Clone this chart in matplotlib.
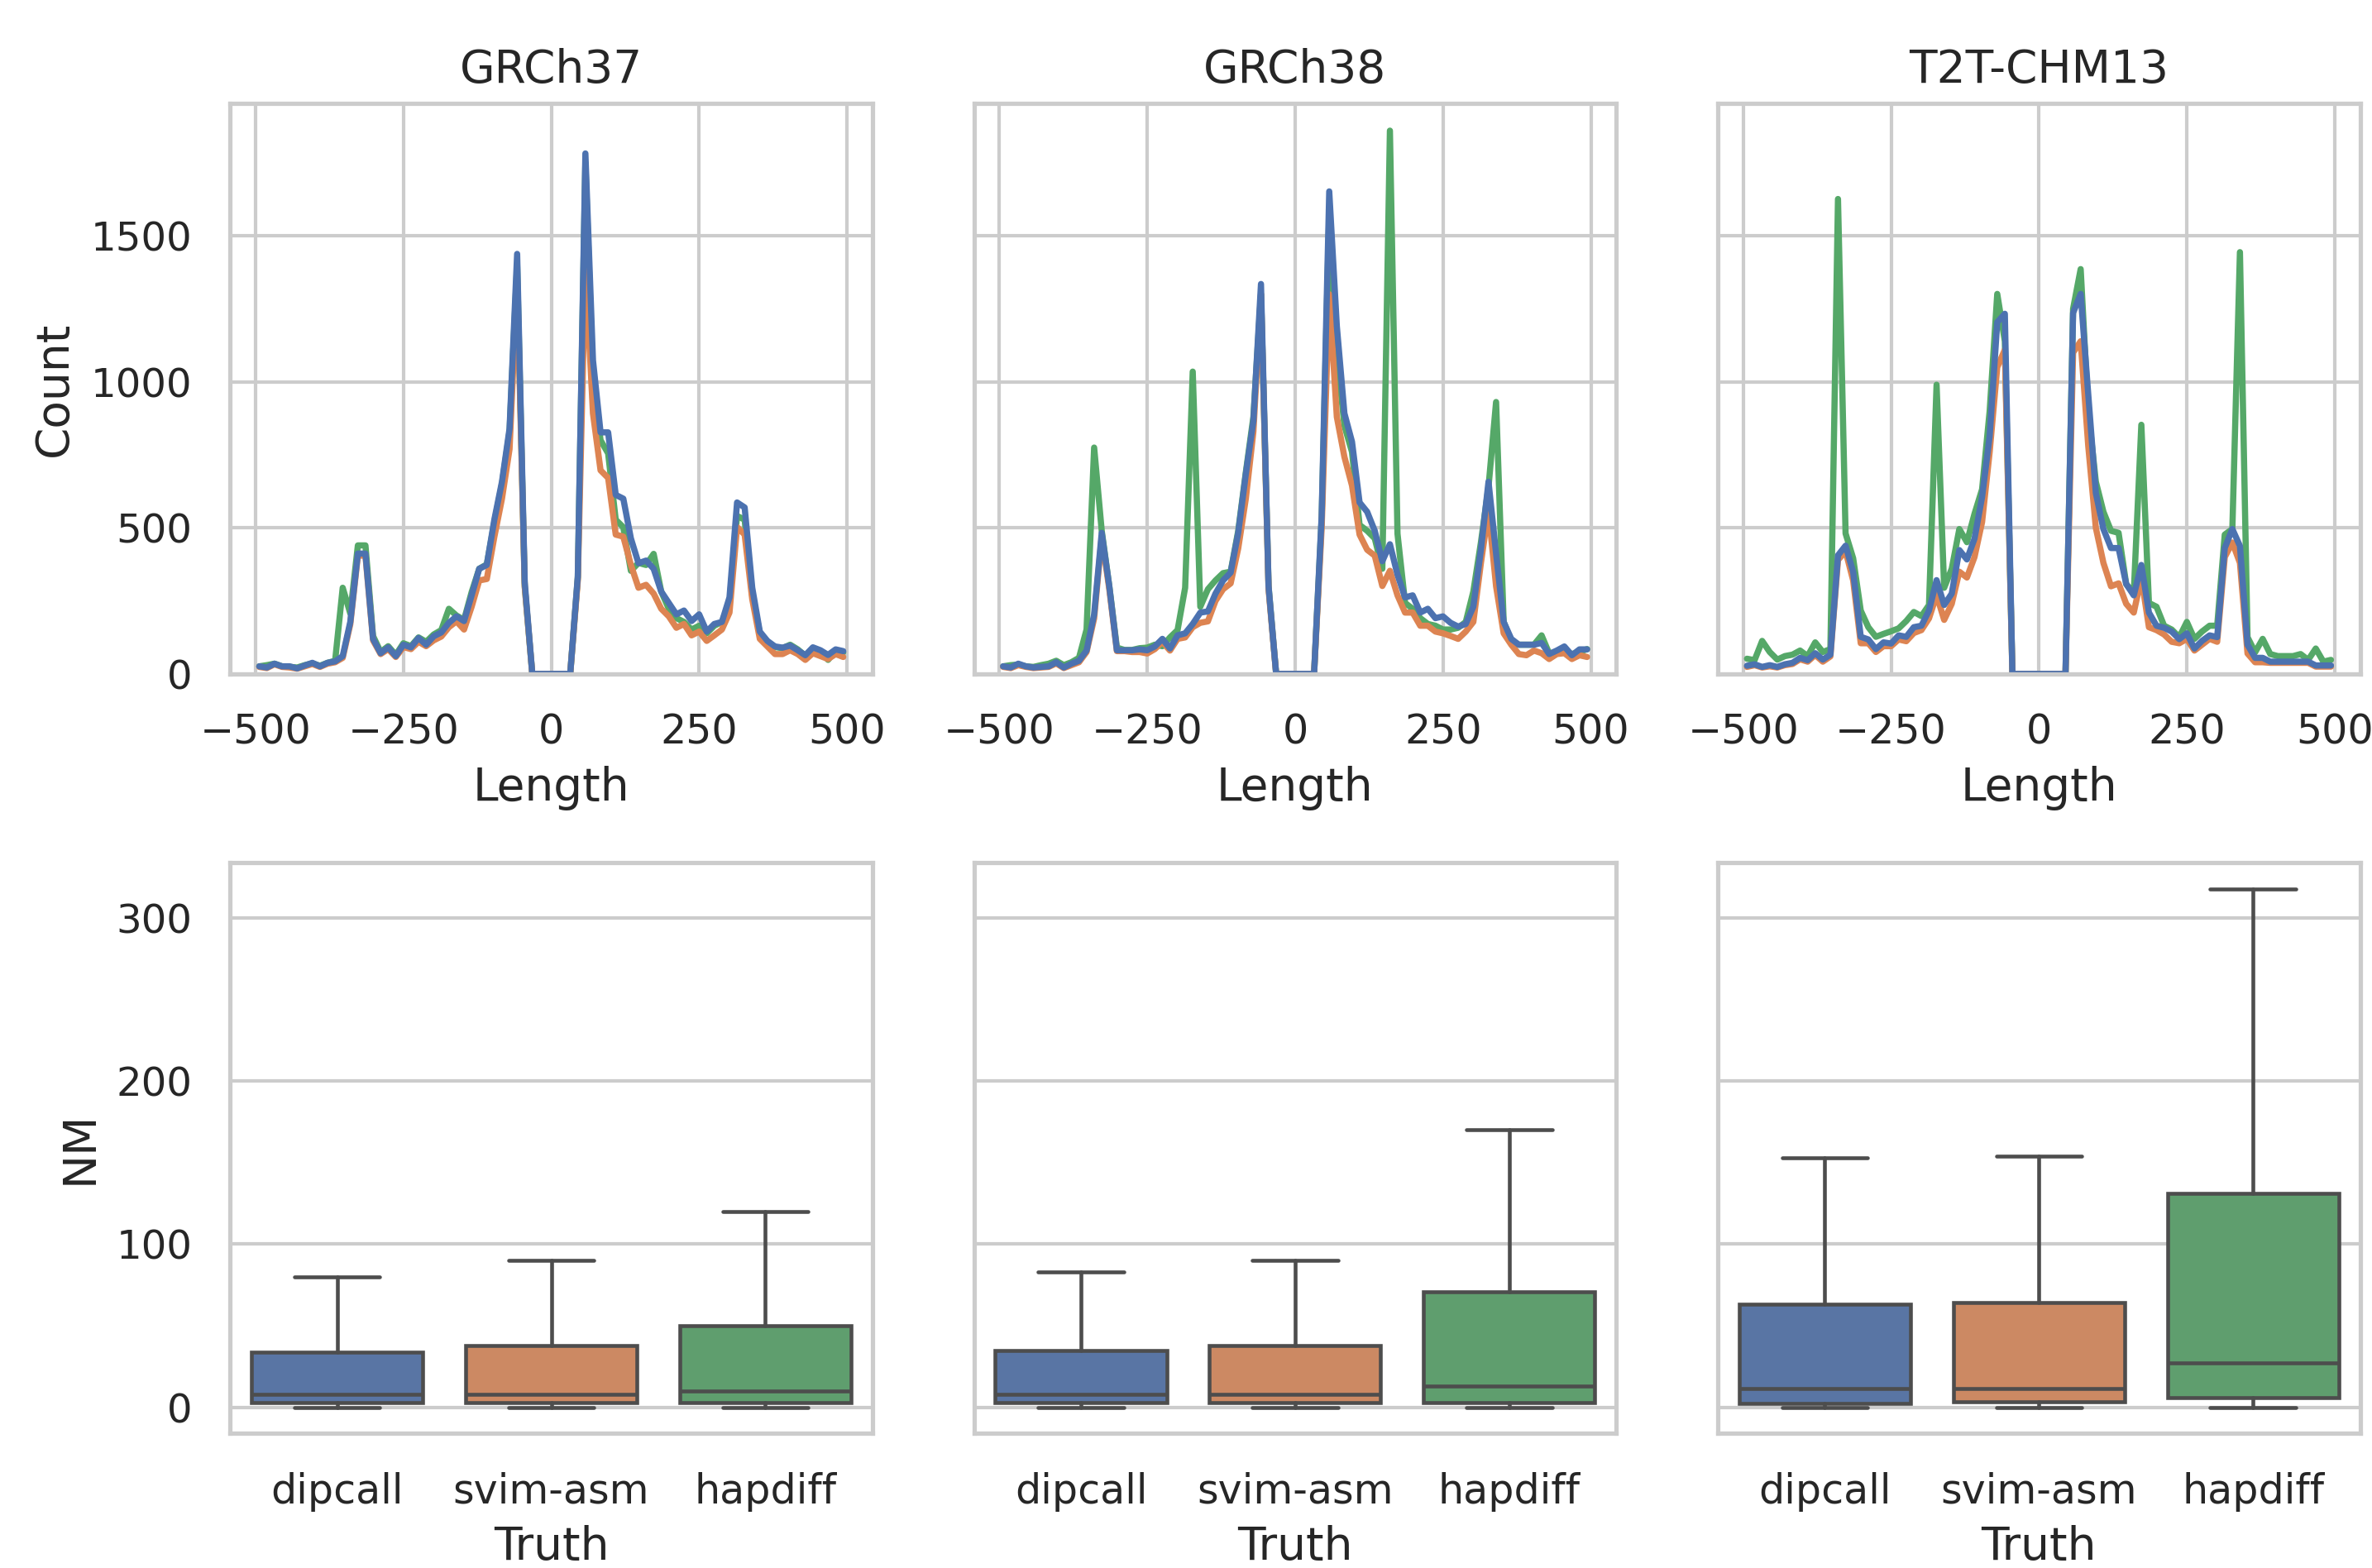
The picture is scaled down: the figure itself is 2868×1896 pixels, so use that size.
# SV length histograms and NM boxplots per reference genome
import numpy as np
import matplotlib
matplotlib.use("Agg")
import matplotlib.pyplot as plt
import seaborn as sns

references = ["GRCh37", "GRCh38", "T2T-CHM13"]
truth_sets = ["dipcall", "svim-asm", "hapdiff"]

# histogram bins over the length axis
bin_edges = np.linspace(-500, 500, 79)
lengths = (bin_edges[:-1] + bin_edges[1:]) / 2

# counts per bin
grch37_dipcall = [26, 22, 35, 26, 26, 19, 29, 38, 26, 38,
                  43, 61, 178, 412, 412, 120, 71, 91, 61, 100,
                  91, 123, 100, 129, 142, 175, 197, 181, 269, 360,
                  373, 529, 658, 840, 1438, 314, 0, 0, 0, 0,
                  0, 0, 334, 1782, 1074, 827, 827, 613, 600, 464,
                  379, 388, 360, 282, 243, 204, 217, 181, 204, 145,
                  171, 178, 262, 587, 570, 295, 145, 113, 94, 90,
                  97, 81, 64, 91, 81, 65, 84, 78]
grch37_svimasm = [24, 20, 33, 24, 22, 18, 26, 34, 24, 35,
                  40, 55, 170, 405, 405, 115, 68, 85, 58, 92,
                  85, 110, 95, 115, 128, 160, 180, 152, 230, 320,
                  325, 470, 600, 770, 1350, 300, 0, 0, 0, 0,
                  0, 0, 320, 1400, 892, 697, 671, 477, 470, 373,
                  295, 305, 275, 223, 197, 158, 171, 132, 145, 113,
                  132, 152, 210, 503, 477, 256, 120, 94, 68, 68,
                  81, 68, 48, 71, 61, 51, 68, 58]
grch37_hapdiff = [26, 30, 35, 26, 24, 22, 30, 36, 28, 38,
                  45, 295, 207, 440, 440, 130, 75, 95, 65, 105,
                  95, 125, 110, 135, 150, 223, 200, 185, 280, 360,
                  375, 520, 650, 830, 1400, 300, 0, 0, 0, 0,
                  0, 0, 330, 1750, 1000, 800, 755, 528, 502, 353,
                  380, 373, 411, 282, 223, 191, 178, 152, 165, 139,
                  165, 178, 243, 541, 528, 269, 140, 110, 92, 88,
                  100, 84, 62, 88, 78, 48, 80, 74]

grch38_dipcall = [26, 22, 35, 26, 22, 24, 26, 40, 22, 35,
                  45, 80, 204, 483, 300, 81, 81, 81, 84, 81,
                  94, 120, 87, 132, 139, 171, 210, 214, 275, 320,
                  347, 483, 684, 866, 1335, 300, 0, 0, 0, 0,
                  0, 0, 541, 1652, 1191, 892, 795, 587, 555, 490,
                  386, 444, 340, 262, 269, 210, 223, 191, 197, 175,
                  162, 171, 230, 425, 658, 412, 178, 120, 100, 100,
                  100, 106, 68, 80, 94, 64, 84, 84]
grch38_svimasm = [24, 20, 30, 24, 20, 22, 24, 36, 20, 30,
                  40, 75, 190, 470, 290, 78, 78, 75, 75, 70,
                  85, 110, 80, 120, 125, 160, 175, 180, 250, 290,
                  310, 430, 600, 830, 1300, 290, 0, 0, 0, 0,
                  0, 0, 500, 1300, 880, 743, 645, 477, 425, 405,
                  301, 353, 269, 210, 210, 165, 165, 145, 139, 130,
                  120, 145, 178, 380, 560, 300, 139, 100, 68, 64,
                  80, 71, 51, 68, 71, 51, 64, 58]
grch38_hapdiff = [26, 30, 32, 26, 24, 30, 35, 45, 30, 40,
                  55, 152, 775, 490, 300, 90, 82, 82, 88, 90,
                  100, 95, 125, 150, 295, 1035, 230, 290, 320, 345,
                  350, 490, 690, 880, 1300, 300, 0, 0, 0, 0,
                  0, 0, 530, 1580, 1100, 850, 760, 510, 490, 464,
                  360, 1860, 480, 243, 223, 191, 171, 165, 152, 152,
                  158, 178, 282, 450, 640, 931, 178, 113, 100, 100,
                  100, 132, 70, 75, 80, 68, 75, 85]

t2t_dipcall = [28, 33, 24, 30, 24, 33, 38, 55, 47, 71,
               49, 66, 406, 439, 349, 127, 118, 85, 108, 104,
               132, 127, 160, 165, 217, 321, 236, 275, 424, 392,
               463, 606, 814, 1204, 1233, 0, 0, 0, 0, 0,
               0, 0, 0, 1236, 1301, 957, 619, 496, 431, 431,
               308, 269, 373, 210, 165, 158, 145, 119, 139, 87,
               113, 132, 126, 431, 496, 438, 100, 55, 55, 42,
               42, 42, 42, 42, 42, 29, 29, 29]
t2t_svimasm = [24, 30, 22, 26, 22, 30, 34, 50, 42, 65,
               42, 60, 390, 420, 320, 105, 105, 75, 95, 95,
               118, 112, 140, 150, 190, 270, 185, 240, 350, 330,
               400, 520, 760, 1050, 1110, 0, 0, 0, 0, 0,
               0, 0, 0, 1100, 1139, 780, 500, 380, 300, 310,
               240, 210, 330, 160, 150, 135, 110, 105, 120, 80,
               100, 120, 110, 400, 450, 380, 70, 40, 40, 38,
               38, 38, 38, 38, 38, 25, 25, 25]
t2t_hapdiff = [52, 47, 113, 75, 49, 61, 66, 80, 61, 108,
               75, 85, 1626, 481, 396, 217, 160, 127, 137, 146,
               156, 181, 212, 198, 236, 990, 295, 360, 496, 451,
               548, 632, 900, 1301, 1139, 0, 0, 0, 0, 0,
               0, 0, 0, 1250, 1386, 900, 658, 555, 490, 483,
               308, 275, 853, 243, 230, 165, 152, 126, 178, 120,
               145, 165, 165, 477, 496, 1444, 126, 74, 120, 68,
               61, 61, 61, 68, 48, 87, 42, 48]

hist_counts = [
    [grch37_dipcall, grch37_svimasm, grch37_hapdiff],
    [grch38_dipcall, grch38_svimasm, grch38_hapdiff],
    [t2t_dipcall, t2t_svimasm, t2t_hapdiff],
]

# NM box summaries: (whisker low, q1, median, q3, whisker high)
grch37_nm = [(0, 3, 8, 34, 80), (0, 3, 8, 38, 90), (0, 3, 10, 50, 120)]
grch38_nm = [(0, 3, 8, 35, 83), (0, 3, 8, 38, 90), (0, 3, 13, 71, 170)]
t2t_nm = [(0, 2.5, 11.5, 63, 153), (0, 3.5, 11.5, 64, 154), (0, 6, 27, 131, 318)]
nm_stats = [grch37_nm, grch38_nm, t2t_nm]

sns.set_theme(style="whitegrid", font_scale=1.1)
plt.rcParams["xtick.labelsize"] = 11.8
plt.rcParams["ytick.labelsize"] = 11.6
plt.rcParams["xtick.major.pad"] = 5.2
plt.rcParams["ytick.major.pad"] = 5.0
palette = sns.color_palette("deep", 3)
box_colors = [sns.desaturate(c, 0.75) for c in palette]
edge = "#4d4d4d"

fig, axes = plt.subplots(2, 3, figsize=(9.56, 6.32), dpi=300, sharey="row")
fig.subplots_adjust(left=0.097, right=0.995, top=0.934, bottom=0.086,
                    wspace=0.158, hspace=0.331)

for col, ref in enumerate(references):
    ax = axes[0, col]
    # draw hapdiff first so dipcall ends up on top
    for i in [2, 1, 0]:
        ax.plot(lengths, hist_counts[col][i], color=palette[i], lw=1.8)
    ax.set_title(ref)
    ax.set_xlabel("Length")
    ax.set_xticks([-500, -250, 0, 250, 500])

    ax = axes[1, col]
    stats = []
    for name, (lo, q1, med, q3, hi) in zip(truth_sets, nm_stats[col]):
        stats.append(dict(label=name, whislo=lo, q1=q1, med=med, q3=q3,
                          whishi=hi, fliers=[]))
    bp = ax.bxp(stats, positions=[0, 1, 2], widths=0.8, capwidths=0.4,
                patch_artist=True, showfliers=False,
                boxprops=dict(edgecolor=edge, linewidth=1.1),
                medianprops=dict(color=edge, linewidth=1.1),
                whiskerprops=dict(color=edge, linewidth=1.1),
                capprops=dict(color=edge, linewidth=1.1))
    for patch, c in zip(bp["boxes"], box_colors):
        patch.set_facecolor(c)
    ax.set_xlim(-0.5, 2.5)
    ax.set_xticks([0, 1, 2])
    ax.set_xticklabels(truth_sets)
    ax.set_xlabel("Truth")
    ax.xaxis.grid(False)

# counts start at zero once every panel has been drawn
axes[0, 0].set_ylim(bottom=0)
axes[0, 0].set_ylabel("Count")
axes[1, 0].set_yticks([0, 100, 200, 300])
axes[1, 0].set_ylabel("NM")

fig.savefig("out.png", dpi=300)
